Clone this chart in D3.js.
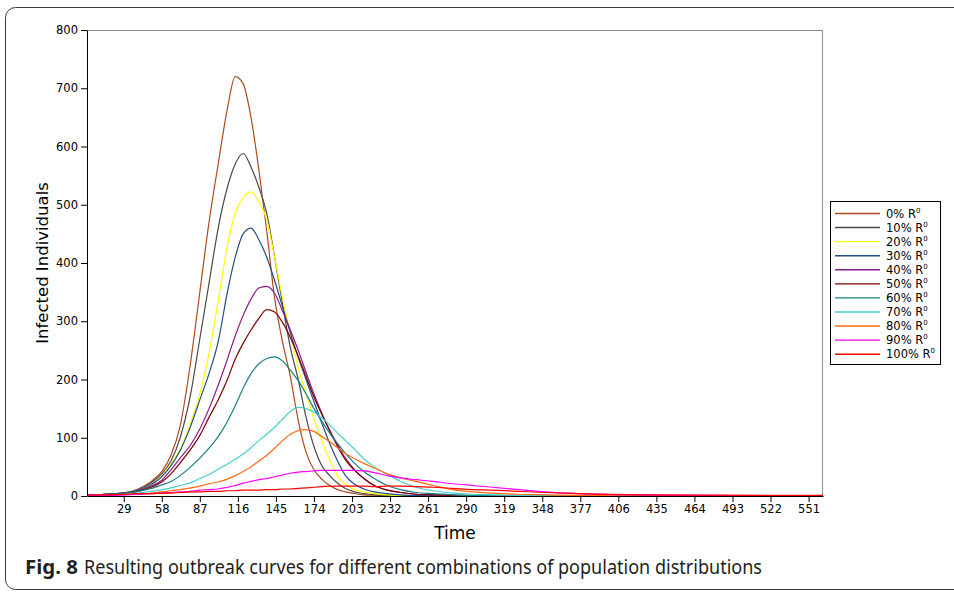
<!DOCTYPE html>
<html>
<head>
<meta charset="utf-8">
<script src="https://cdn.jsdelivr.net/npm/d3@7"></script>
<style>
  body { margin: 0; background: #fff; }
  .axis text { font-family: "DejaVu Sans", sans-serif; font-size: 11.5px; fill: #000; }
  .axis path, .axis line { stroke: #000; }
</style>
</head>
<body>
<div id="chart"></div>
<script>
// sample days (x) shared by all series
var days = [1, 15, 29, 40, 50, 58, 65, 72, 80, 87, 94, 101, 108, 114, 120, 126, 132, 138, 144, 150,
  156, 162, 168, 174, 180, 186, 192, 198, 205, 212, 220, 230, 240, 252, 265, 280, 295, 310, 330, 350,
  375, 400, 430, 470, 520, 562]

// infected individuals per series
var r0   = [2, 3, 5, 12, 25, 42, 70, 120, 230, 350, 470, 570, 665, 720, 708, 650, 560, 455, 340, 265,
  205, 130, 75, 45, 29, 18, 11, 7, 4, 2, 1.5, 1, 0.5, 0.3, 0, 0, 0, 0, 0, 0, 0, 0, 0, 0, 0, 0]
var r10  = [2, 3, 5, 11, 23, 38, 60, 100, 175, 270, 365, 460, 530, 570, 588, 565, 530, 485, 410, 330,
  255, 200, 135, 85, 52, 35, 22, 13, 7, 4, 2, 1, 0.5, 0.3, 0, 0, 0, 0, 0, 0, 0, 0, 0, 0, 0, 0]
var r20  = [2, 3, 5, 10, 20, 34, 55, 80, 125, 175, 245, 335, 430, 485, 512, 522, 505, 474, 410, 340,
  280, 220, 175, 132, 95, 62, 35, 20, 11, 7, 4, 2, 1, 0.5, 0.3, 0, 0, 0, 0, 0, 0, 0, 0, 0, 0, 0]
var r30  = [2, 3, 5, 10, 20, 33, 52, 78, 120, 165, 210, 265, 350, 410, 450, 460, 440, 410, 370, 325,
  280, 238, 200, 162, 125, 90, 60, 35, 20, 12, 7, 4, 2, 1, 0.5, 0, 0, 0, 0, 0, 0, 0, 0, 0, 0, 0]
var r40  = [2, 3, 5, 9, 17, 27, 45, 65, 88, 115, 150, 190, 235, 275, 310, 338, 357, 360, 348, 318,
  285, 250, 212, 175, 142, 113, 88, 65, 45, 30, 18, 10, 6, 3, 2, 1, 0.5, 0, 0, 0, 0, 0, 0, 0, 0, 0]
var r50  = [2, 3, 5, 8, 15, 24, 38, 57, 80, 104, 135, 165, 200, 235, 262, 285, 305, 320, 316, 298,
  272, 240, 205, 170, 140, 112, 85, 62, 44, 30, 18, 10, 6, 3, 2, 1, 0.5, 0, 0, 0, 0, 0, 0, 0, 0, 0]
var r60  = [2, 3, 5, 8, 13, 19, 25, 35, 50, 65, 82, 102, 128, 155, 185, 210, 227, 236, 239, 232,
  216, 198, 175, 150, 128, 108, 90, 73, 56, 42, 30, 18, 11, 6, 4, 2, 1, 0.5, 0, 0, 0, 0, 0, 0, 0, 0]
var r70  = [1, 2, 3, 5, 8, 11, 14, 18, 23, 30, 37, 46, 55, 63, 72, 83, 95, 106, 118, 132,
  145, 152, 150, 144, 134, 122, 108, 95, 80, 64, 50, 37, 25, 15, 9, 5, 3, 2, 1, 0.5, 0, 0, 0, 0, 0, 0]
var r80  = [1, 1, 2, 3, 5, 7, 9, 11, 14, 17, 21, 24, 29, 35, 42, 50, 60, 70, 82, 95,
  106, 112, 114, 111, 102, 93, 83, 73, 64, 56, 48, 38, 31, 25, 18, 11, 7, 5, 3, 2, 1, 0.5, 0, 0, 0, 0]
var r90  = [1, 1, 2, 3, 4, 5, 6, 7, 8, 10, 11, 12, 15, 18, 22, 25, 28, 30, 33, 36,
  39, 41, 42, 43, 44, 44, 44, 44, 44, 43, 40, 35, 31, 28, 25, 21, 18, 15, 11, 7, 4, 2.5, 1.5, 1, 0.5, 0]
var r100 = [2, 2, 3, 4, 4, 5, 5, 6, 7, 7, 8, 8, 9, 9, 10, 10, 10, 11, 11, 12,
  12, 13, 14, 15, 16, 17, 17, 17, 17, 17, 16, 17, 17, 16, 15, 13, 11, 10, 8, 6, 4, 3, 2, 1.5, 1, 1]

var seriesNames = ['0%', '10%', '20%', '30%', '40%', '50%', '60%', '70%', '80%', '90%', '100%']
var seriesValues = [r0, r10, r20, r30, r40, r50, r60, r70, r80, r90, r100]
var seriesColors = ['#b04a1c', '#4a4a4a', '#ffff00', '#1f4f8a', '#8b1a8b', '#800000',
  '#1a7f80', '#45d0d0', '#ff6a10', '#ff00ff', '#ff0000']

var yTicks = [0, 100, 200, 300, 400, 500, 600, 700, 800]
var timeTicks = [29, 58, 87, 116, 145, 174, 203, 232, 261, 290, 319, 348, 377, 406, 435, 464, 493, 522, 551]

var W = 954, H = 593
var margin = { top: 30, right: 131, bottom: 97, left: 87 }
var width = W - margin.left - margin.right
var height = H - margin.top - margin.bottom

var svg = d3.select('#chart').append('svg')
  .attr('width', W)
  .attr('height', H)

// figure panel frame
svg.append('rect')
  .attr('x', 5.5).attr('y', 7.5)
  .attr('width', 1000).attr('height', 582)
  .attr('rx', 10)
  .attr('fill', 'none')
  .attr('stroke', '#3a3a3a')
  .attr('stroke-width', 1)

var g = svg.append('g')
  .attr('transform', 'translate(' + margin.left + ',' + margin.top + ')')

var xScale = d3.scaleLinear().domain([1, 562]).range([0, width])
var yScale = d3.scaleLinear().domain([0, 800]).range([height, 0])

// top / right frame of plot
g.append('path')
  .attr('d', 'M0,0.5H' + (width - 0.5) + 'V' + height)
  .attr('fill', 'none')
  .attr('stroke', '#8c8c8c')

// curves
var line = d3.line()
  .x(function (d) { return xScale(d[0]) })
  .y(function (d) { return yScale(d[1]) })
  .curve(d3.curveMonotoneX)

seriesValues.forEach(function (vals, i) {
  var pts = days.map(function (t, j) { return [t, vals[j]] })
  g.append('path')
    .datum(pts)
    .attr('fill', 'none')
    .attr('stroke', seriesColors[i])
    .attr('stroke-width', 1.2)
    .attr('d', line)
})

// axes
g.append('g')
  .attr('class', 'axis')
  .attr('transform', 'translate(0,' + height + ')')
  .call(d3.axisBottom(xScale).tickValues(timeTicks).tickSize(6).tickSizeOuter(0).tickPadding(3))

g.append('g')
  .attr('class', 'axis')
  .call(d3.axisLeft(yScale).tickValues(yTicks).tickSize(6).tickSizeOuter(0).tickPadding(3))

// axis labels
g.append('text')
  .attr('x', width / 2)
  .attr('y', height + 43)
  .attr('text-anchor', 'middle')
  .style('font-family', 'DejaVu Sans, sans-serif')
  .style('font-size', '17px')
  .text('Time')

g.append('text')
  .attr('transform', 'translate(' + (-39) + ',' + (height / 2) + ') rotate(-90)')
  .attr('text-anchor', 'middle')
  .style('font-family', 'DejaVu Sans, sans-serif')
  .style('font-size', '16.5px')
  .text('Infected Individuals')

// legend
var legend = svg.append('g').attr('transform', 'translate(830,201)')
legend.append('rect')
  .attr('x', 0.5).attr('y', 0.5)
  .attr('width', 110).attr('height', 163)
  .attr('fill', '#fff')
  .attr('stroke', '#000')

var rows = legend.selectAll('.row')
  .data(seriesNames)
  .enter().append('g')
  .attr('class', 'row')
  .attr('transform', function (d, i) { return 'translate(0,' + (12.5 + i * 14.07) + ')' })

rows.append('line')
  .attr('x1', 5).attr('x2', 50)
  .attr('stroke', function (d, i) { return seriesColors[i] })
  .attr('stroke-width', 1.4)

var lt = rows.append('text')
  .attr('x', 56)
  .attr('y', 4)
  .style('font-family', 'DejaVu Sans, sans-serif')
  .style('font-size', '11.5px')
lt.append('tspan').text(function (d) { return d + ' R' })
lt.append('tspan')
  .attr('dy', -5)
  .style('font-size', '7px')
  .text('0')

// caption
svg.append('text')
  .attr('x', 25).attr('y', 574)
  .attr('textLength', 53)
  .attr('lengthAdjust', 'spacingAndGlyphs')
  .style('font-family', 'Noto Sans, sans-serif')
  .style('font-weight', 'bold')
  .style('font-size', '19px')
  .style('fill', '#231f20')
  .text('Fig. 8')

svg.append('text')
  .attr('x', 84).attr('y', 574)
  .attr('textLength', 678)
  .attr('lengthAdjust', 'spacingAndGlyphs')
  .style('font-family', 'Noto Sans, sans-serif')
  .style('font-size', '19px')
  .style('fill', '#231f20')
  .text('Resulting outbreak curves for different combinations of population distributions')
</script>
</body>
</html>
